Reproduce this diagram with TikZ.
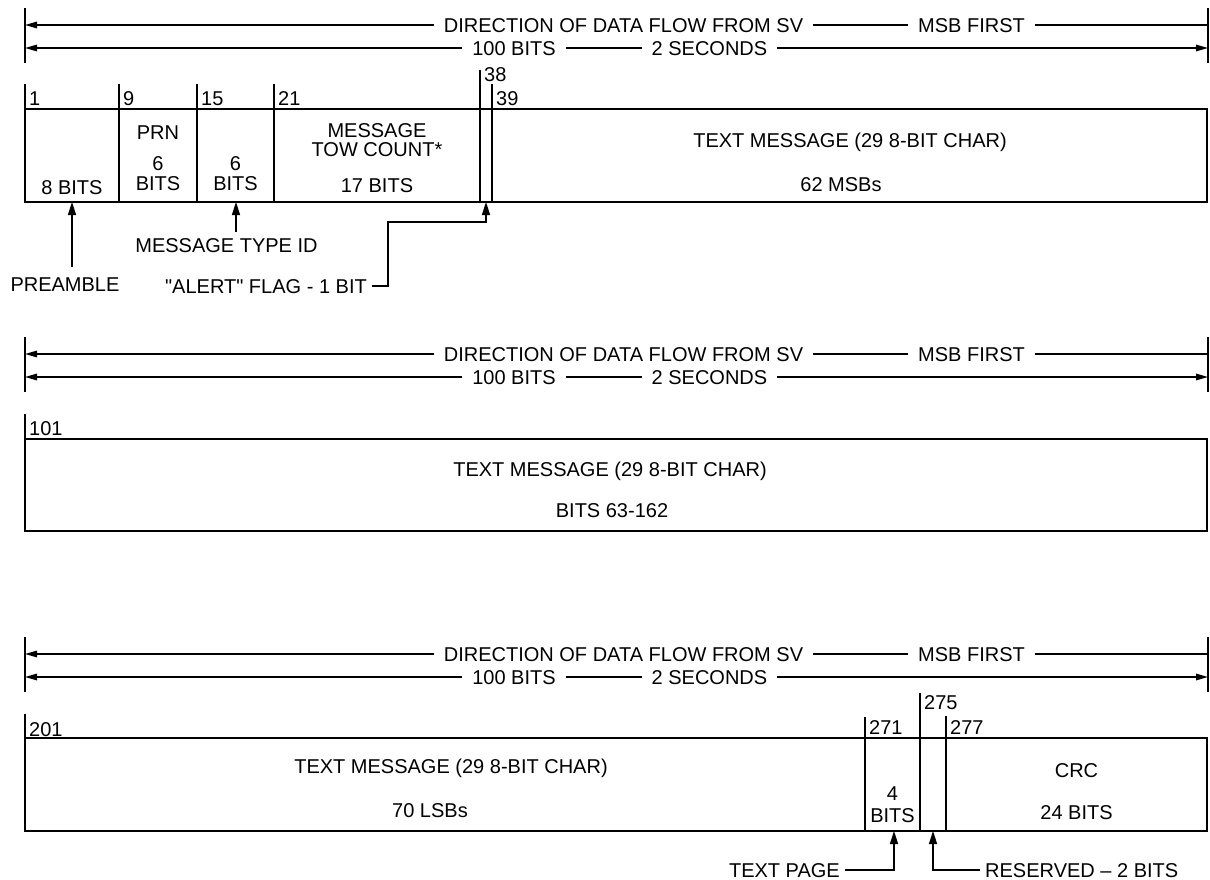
\documentclass[tikz,border=0pt]{standalone}
\usepackage{fontspec}
\setmainfont{Liberation Sans}
\newfontfamily\qfont{Liberation Sans}[Ligatures=TeXOff]
\usetikzlibrary{arrows.meta}

\begin{document}
\begin{tikzpicture}[x=1pt,y=-1pt,>={Triangle[length=12pt,width=6.5pt]},
  txt/.style={font=\fontsize{20}{24}\selectfont,inner sep=0pt,text height=14.3pt,text depth=0pt},
  num/.style={txt,anchor=base west},
  hdr/.style={txt,fill=white,inner xsep=10pt,inner ysep=2pt},
  lbl/.style={txt,inner xsep=5pt,inner ysep=6pt},
  flow/.style={line width=1.5pt},
  bar/.style={line width=1.8pt},
  field/.style={draw,line width=1.7pt},
  tick/.style={line width=1.4pt},
  call/.style={line width=1.5pt,-{Triangle[length=13pt,width=8pt]}}]
\useasboundingbox (0,0) rectangle (1210,880);

% direction of flow, one header per word group
\foreach \oy/\s in {0/a,329/b,629/c}{
  \draw[bar] (25,8+\oy) -- (25,63+\oy);
  \draw[bar] (1208,8+\oy) -- (1208,63+\oy);
  \coordinate (\s l1) at (25,25+\oy);
  \coordinate (\s r1) at (1208,25+\oy);
  \coordinate (\s l2) at (25,48+\oy);
  \coordinate (\s r2) at (1208,48+\oy);
  \draw[flow,<-] (\s l1) -- (\s r1);
  \draw[flow,<->] (\s l2) -- (\s r2);
  \node[hdr] (\s dir) at (623.5,25+\oy) {DIRECTION OF DATA FLOW FROM SV};
  \node[hdr] (\s msb) at (971.5,25+\oy) {MSB FIRST};
  \node[hdr] (\s bit) at (514,48+\oy) {100 BITS};
  \node[hdr] (\s sec) at (709.5,48+\oy) {2 SECONDS};
}

% word 1
\draw[field] (25,109) rectangle (1207,202);
\foreach \x/\t/\b/\n in {25/84/106/1,119/84/106/9,197/84/106/15,274/84/106/21,480/70/82/38,492/84/106/39}{
  \draw[tick] (\x,\t) -- (\x,202);
  \node[num] (n\n) at (\x+4,\b) {\n};
}
\node[txt] (pre) at (72,187) {8 BITS};
\node[txt] (prn) at (158,132) {PRN};
\node[txt] (prnw) at (158,163) {6};
\node[txt] (prnb) at (158,183) {BITS};
\node[txt] (typw) at (235.5,163) {6};
\node[txt] (typb) at (235.5,183) {BITS};
\node[txt] (tow) at (377,130) {MESSAGE};
\node[txt] (towc) at (377,149) {TOW COUNT*};
\node[txt] (towb) at (377,185) {17 BITS};
\node[txt] (txa) at (850,140) {TEXT MESSAGE (29 8-BIT CHAR)};
\node[txt] (txab) at (841,184) {62 MSBs};

\coordinate (preB) at (72,202);
\node[lbl,inner ysep=10pt] (preL) at (65,284) {PREAMBLE};
\draw[call] (preL.north -| preB) -- (preB);
\coordinate (typB) at (236,202);
\node[lbl] (typL) at (226.5,245) {MESSAGE TYPE ID};
\draw[call] (typL.north -| typB) -- (typB);
\coordinate (alrB) at (486,202);
\coordinate (alrK) at (486,222);
\node[lbl,anchor=east] (alrL) at (372,286) {\qfont "ALERT" FLAG - 1 BIT};
\draw[call] (alrL.east) -- ++(16,0) |- (alrK) -- (alrB);

% word 2
\draw[tick] (25,414) -- (25,439);
\node[num] (n101) at (29,435) {101};
\draw[field] (25,439) rectangle (1207,531);
\node[txt] (txb) at (610,469) {TEXT MESSAGE (29 8-BIT CHAR)};
\node[txt] (txbb) at (612,510) {BITS 63-162};

% word 3
\draw[field] (25,738) rectangle (1207,831);
\foreach \x/\t/\b/\n in {25/714/736/201,865/717/734/271,920/693/709/275,946/716/734/277}{
  \draw[tick] (\x,\t) -- (\x,831);
  \node[num] (n\n) at (\x+4,\b) {\n};
}
\node[txt] (txc) at (451,766) {TEXT MESSAGE (29 8-BIT CHAR)};
\node[txt] (txcb) at (430,810) {70 LSBs};
\node[txt] (pgw) at (892.5,793) {4};
\node[txt] (pgb) at (892.5,815) {BITS};
\node[txt] (crc) at (1076.5,770) {CRC};
\node[txt] (crcb) at (1076.5,812) {24 BITS};

\coordinate (pgB) at (894,831);
\coordinate (rsB) at (933,831);
\node[lbl,anchor=east] (pgL) at (845,870) {TEXT PAGE};
\draw[call] (pgL.east) -| (pgB);
\node[lbl,anchor=west] (rsL) at (980,870) {RESERVED -- 2 BITS};
\draw[call] (rsL.west) -| (rsB);
\end{tikzpicture}
\end{document}
